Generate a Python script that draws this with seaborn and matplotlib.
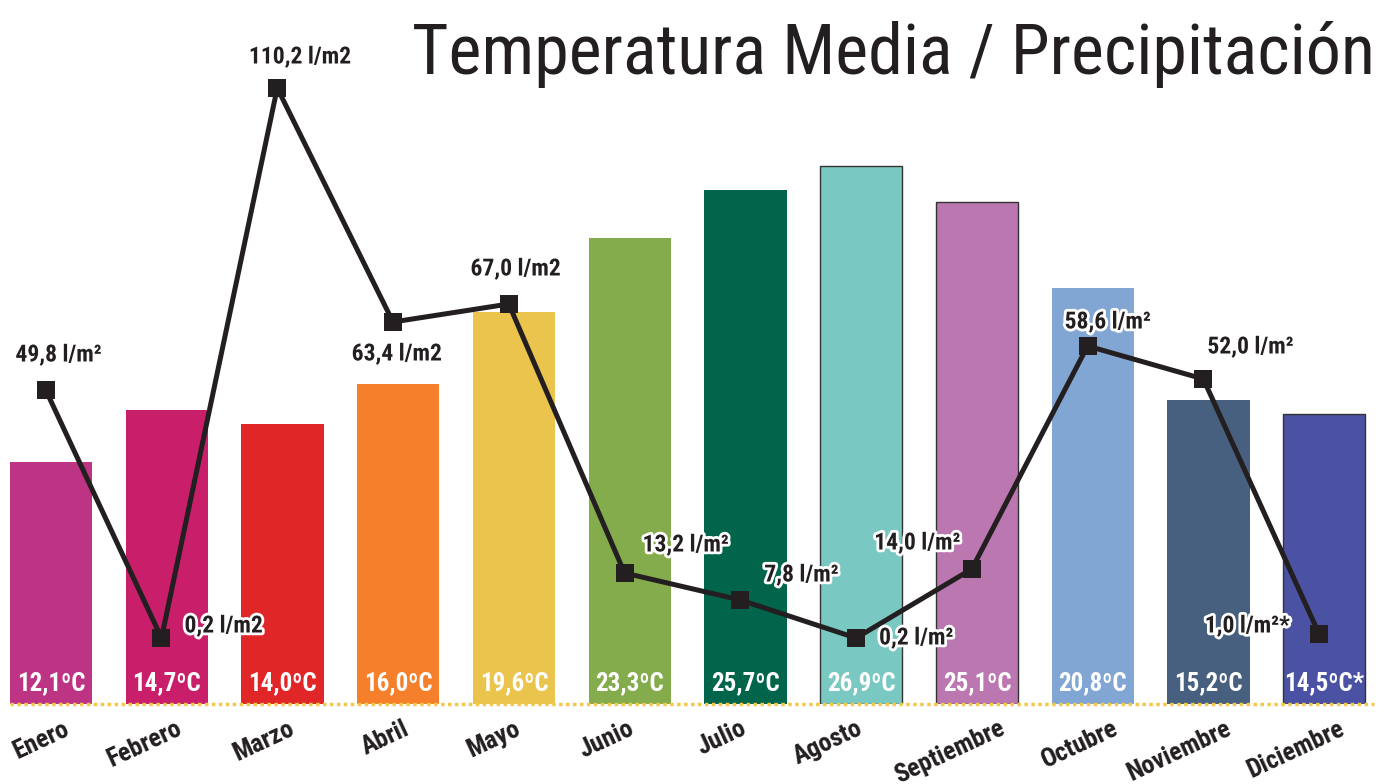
import numpy as np
import pandas as pd
import matplotlib
matplotlib.use("Agg")
import matplotlib.pyplot as plt
import matplotlib.patheffects as pe
import matplotlib.transforms as mtransforms
from matplotlib import font_manager
import seaborn as sns

# datos
meses = ["Enero", "Febrero", "Marzo", "Abril", "Mayo", "Junio", "Julio",
         "Agosto", "Septiembre", "Octubre", "Noviembre", "Diciembre"]
temperaturas = [12.1, 14.7, 14.0, 16.0, 19.6, 23.3, 25.7, 26.9, 25.1, 20.8, 15.2, 14.5]
precipitacion = [49.8, 0.2, 110.2, 63.4, 67.0, 13.2, 7.8, 0.2, 14.0, 58.6, 52.0, 1.0]
etiquetas_temp = ["12,1ºC", "14,7ºC", "14,0ºC", "16,0ºC", "19,6ºC", "23,3ºC",
                  "25,7ºC", "26,9ºC", "25,1ºC", "20,8ºC", "15,2ºC", "14,5ºC*"]
etiquetas_prec = ["49,8 l/m²", "0,2 l/m2", "110,2 l/m2", "63,4 l/m2", "67,0 l/m2",
                  "13,2 l/m²", "7,8 l/m²", "0,2 l/m²", "14,0 l/m²", "58,6 l/m²",
                  "52,0 l/m²", "1,0 l/m²*"]

# estilos
colores = ["#BE3485", "#C91E6A", "#E12628", "#F57F2A", "#EAC44C", "#84AC4D",
           "#00654A", "#79C8C1", "#BB77B0", "#82A6D3", "#48607F", "#4B52A3"]
bordes = [None, None, None, None, None, None, None, "#333333", "#333333",
          None, None, "#333333"]
# desplazamiento de cada etiqueta de precipitacion (px) y alineacion
offs_prec = [(13, 35, "center"), (23, 12, "left"), (23, 31, "center"),
             (4, -32, "center"), (7, 35, "center"), (18, 28, "left"),
             (24, 25, "left"), (23, 0, "left"), (-11, 26, "right"),
             (-23, 24, "left"), (4, 32, "left"), (-29, 8, "right")]
offs_meses = [12, 9, 6, 4, 0, -2, -6, -5, 21, 19, 16, 14]

OSCURO = "#231F20"

sns.set_style("white")
disponibles = {f.name for f in font_manager.fontManager.ttflist}
condensada = next((n for n in ["Roboto Condensed", "Liberation Sans Narrow",
                               "Open Sans Condensed"] if n in disponibles), None)
familias = ([condensada] if condensada else []) + ["Roboto", "DejaVu Sans"]
plt.rcParams["font.family"] = familias

df = pd.DataFrame({"mes": meses, "temp": temperaturas, "precip": precipitacion})

fig = plt.figure(figsize=(13.88, 7.84), dpi=100)
ax = fig.add_axes([0, 80 / 784, 1, 704 / 784])

sns.barplot(data=df, x="mes", y="temp", hue="mes", palette=colores,
            width=0.71, saturation=1, legend=False, ax=ax)
for bar, borde in zip(ax.patches, bordes):
    if borde:
        bar.set_edgecolor(borde)
        bar.set_linewidth(1)
    else:
        bar.set_linewidth(0)

ax.set_xlim(-0.44, 11.55)
ax.set_ylim(0, 35.2)
ax.set_yticks([])
ax.set_xlabel("")
ax.set_ylabel("")
for s in ax.spines.values():
    s.set_visible(False)

# linea base punteada
ax.axhline(0, xmin=0.007, xmax=0.99, color="#F2C94C", linewidth=2.5,
           linestyle=(0, (1, 1)), clip_on=False, zorder=3)

# etiquetas de temperatura
for i, txt in enumerate(etiquetas_temp):
    ax.annotate(txt, (i, 0), xytext=(0, 21), textcoords="offset pixels",
                ha="center", va="center", color="white", fontsize=18,
                fontweight="bold")

# meses
ax.set_xticks(range(len(meses)))
ax.set_xticklabels(meses, rotation=25, ha="right", va="top",
                   rotation_mode="anchor", fontsize=18.5, fontweight="bold",
                   color=OSCURO)
ax.tick_params(axis="x", length=0, pad=9)
for lbl, dx in zip(ax.get_xticklabels(), offs_meses):
    lbl.set_transform(lbl.get_transform() +
                      mtransforms.ScaledTranslation(dx / 100, 0, fig.dpi_scale_trans))

# precipitacion
ax2 = ax.twinx()
x_linea = np.arange(len(meses)) - 0.045
sns.lineplot(x=x_linea, y=precipitacion, ax=ax2, color=OSCURO, linewidth=3.6,
             marker="s", markersize=12.5, markeredgewidth=0, sort=False)
ax2.set_ylim(-13, 127.8)
ax2.set_yticks([])
ax2.set_ylabel("")
for s in ax2.spines.values():
    s.set_visible(False)

for x, y, txt, (dx, dy, ha) in zip(x_linea, precipitacion, etiquetas_prec, offs_prec):
    ax2.annotate(txt, (x, y), xytext=(dx, dy), textcoords="offset pixels",
                 ha=ha, va="center", fontsize=17, fontweight="bold", color=OSCURO,
                 path_effects=[pe.withStroke(linewidth=4, foreground="white")])

titulo = fig.text(1375 / 1388, 1 - 74 / 784, "Temperatura Media / Precipitación",
                  ha="right", va="baseline", fontsize=52, color=OSCURO)
# ajustar el titulo al ancho del original (~965 px)
fig.canvas.draw()
ancho = titulo.get_window_extent().width
titulo.set_fontsize(min(60, 52 * 965 / ancho))

fig.savefig("out.png", dpi=100)
